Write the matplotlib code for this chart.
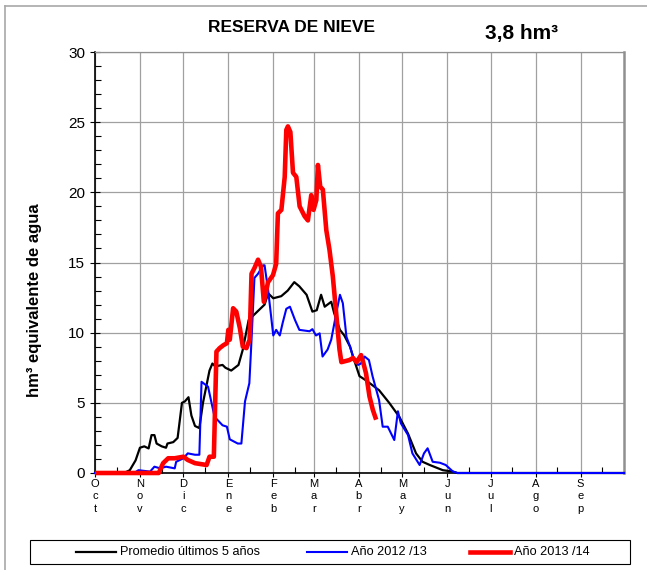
import matplotlib.pyplot as plt
from matplotlib.lines import Line2D
from matplotlib.patches import Rectangle

plt.rcParams['font.family'] = ['Liberation Sans', 'DejaVu Sans']

W, H = 647, 570

# meses del año hidrológico (días desde el 1 de octubre)
meses = ['Oct', 'Nov', 'Dic', 'Ene', 'Feb', 'Mar', 'Abr', 'May', 'Jun', 'Jul', 'Ago', 'Sep']
inicio_mes = [0, 31, 61, 92, 123, 151, 182, 212, 243, 273, 304, 335]

# Promedio últimos 5 años
prom_dias = [0, 20, 24, 28, 30, 31, 34, 37, 39, 41, 42.5, 46, 49, 50, 54, 57, 60, 62, 64.5,
             66.5, 69, 72, 74.5, 79, 81, 83, 88, 90, 94, 99, 102, 106, 112, 117, 119.5,
             123, 128.5, 133, 137.5, 141, 146, 150, 153, 156, 158.5, 163, 165, 169, 172,
             176, 178, 182.5, 187, 196, 203, 210, 216, 221.5, 226, 231, 240, 247, 250, 365]
prom_vals = [0, 0, 0.2, 0.9, 1.5, 1.8, 1.9, 1.75, 2.7, 2.7, 2.1, 1.9, 1.8, 2.1, 2.2, 2.5, 5.0,
             5.1, 5.4, 4.1, 3.35, 3.2, 5.0, 7.3, 7.8, 7.6, 7.7, 7.5, 7.3, 7.7, 8.8, 10.9, 11.5,
             12.0, 12.8, 12.45, 12.6, 13.0, 13.6, 13.3, 12.7, 11.5, 11.6, 12.7, 11.85, 12.2,
             11.4, 10.2, 9.8, 9.0, 8.3, 6.9, 6.6, 5.9, 5.0, 4.0, 2.8, 1.4, 0.8, 0.57, 0.2,
             0.1, 0, 0]

# Año 2012/13
d1213 = [0, 27, 30, 38, 41, 45, 49, 55, 56, 61, 64, 69, 72, 73.5, 78, 82.5, 88, 91, 93, 98.5,
         101, 103.5, 106.5, 108, 110, 112.5, 116, 117, 119.5, 123, 125, 127.5, 129.5, 132,
         134.5, 138, 141, 148, 150, 152.5, 155, 157, 160.5, 163, 166.5, 169, 171, 173.5, 176,
         178, 181.5, 183.5, 186, 189, 191.5, 196, 198.5, 202, 206.5, 209, 211, 216, 219, 224,
         227, 229.5, 233, 238, 242, 247, 250, 365]
v1213 = [0, 0, 0.2, 0.1, 0.45, 0.33, 0.45, 0.33, 0.8, 1.05, 1.4, 1.3, 1.3, 6.5, 6.15, 4.0, 3.4,
         3.3, 2.4, 2.1, 2.1, 5.1, 6.4, 9.5, 13.9, 14.2, 14.8, 14.8, 13.0, 9.8, 10.2, 9.8, 10.7,
         11.7, 11.85, 10.9, 10.2, 10.1, 10.25, 9.8, 9.95, 8.3, 8.8, 9.5, 11.4, 12.7, 12.1, 9.7,
         9.0, 8.3, 7.7, 7.8, 8.3, 8.05, 6.9, 5.2, 3.3, 3.3, 2.35, 4.4, 3.55, 2.7, 1.4, 0.57,
         1.4, 1.76, 0.8, 0.73, 0.57, 0.1, 0, 0]

# Año 2013/14
d1314 = [0, 44, 47, 50.5, 55, 61, 64, 69, 77, 79, 82, 83.8, 86, 88.5, 91, 92, 93, 95.3, 97.5,
         100, 102, 104.5, 106.7, 108, 110, 112.5, 114.5, 116.5, 119.4, 122.8, 125, 126.2,
         128.6, 130.9, 132, 133.1, 134.8, 136.6, 138.9, 141.2, 144.6, 146.9, 149.2, 150.8,
         152.7, 153.8, 155.4, 157.2, 159.6, 161.8, 164.1, 166.4, 168.7, 170, 175.6, 178,
         180.5, 183.6, 185, 187, 189.4, 191.7, 194]
v1314 = [0, 0, 0.7, 1.05, 1.05, 1.16, 0.93, 0.7, 0.57, 1.16, 1.16, 8.65, 8.9, 9.1, 9.25, 10.2,
         9.5, 11.74, 11.5, 10.3, 9.0, 8.9, 9.5, 14.2, 14.6, 15.2, 14.7, 12.2, 13.6, 14.1, 14.9,
         18.5, 18.75, 21.1, 24.45, 24.7, 24.3, 21.4, 21.1, 19.0, 18.3, 18.0, 19.8, 18.75, 19.45,
         21.95, 20.4, 20.2, 17.3, 15.9, 14.0, 11.4, 8.8, 7.9, 8.05, 8.2, 7.9, 8.4, 7.9, 7.1,
         5.45, 4.5, 3.8]

fig = plt.figure(figsize=(W / 100, H / 100), dpi=100)
ax = fig.add_axes([95 / W, 97 / H, 529 / W, 421 / H])

ax.plot(prom_dias, prom_vals, color='black', lw=1.6, clip_on=False, zorder=3)
ax.plot(d1213, v1213, color='#0000ff', lw=1.5, clip_on=False, zorder=4)
ax.plot(d1314, v1314, color='#ff0000', lw=3.3, clip_on=False, zorder=5,
        solid_joinstyle='round', solid_capstyle='butt')

ax.set_xlim(0, 365)
ax.set_ylim(0, 30)
ax.set_yticks(range(0, 31, 5))
ax.set_yticks(range(0, 31), minor=True)
ax.set_xticks(inicio_mes)
ax.set_xticklabels(['\n'.join(m) for m in meses], fontsize=8, linespacing=1.35)
ax.set_xticks([d + 15 for d in inicio_mes], minor=True)
ax.tick_params(axis='y', which='major', labelsize=11, direction='inout', length=7, width=0.8)
ax.tick_params(axis='y', which='minor', direction='in', length=4, width=0.8)
ax.tick_params(axis='x', which='major', direction='out', length=3, width=0.8, pad=1)
ax.tick_params(axis='x', which='minor', direction='in', length=4, width=0.8)
ax.grid(True, which='major', color='#a0a0a0', lw=0.9)
ax.set_axisbelow(True)

for lado in ('top', 'right'):
    ax.spines[lado].set_color('#909090')
ax.spines['right'].set_linewidth(1.8)
ax.spines['top'].set_linewidth(0.9)
ax.spines['left'].set_linewidth(1.2)
ax.spines['bottom'].set_linewidth(1.2)

fig.text(35 / W, 1 - 300 / H, 'hm³ equivalente de agua', rotation=90, fontsize=12,
         fontweight='bold', ha='center', va='center')

fig.text(292 / W, 1 - 27 / H, 'RESERVA DE NIEVE', fontsize=12.5, fontweight='bold',
         ha='center', va='center')
fig.text(522 / W, 1 - 33 / H, '3,8 hm³', fontsize=15, fontweight='bold',
         ha='center', va='center')

# marco exterior
fig.add_artist(Line2D([5 / W, 5 / W], [0, 1 - 6 / H], transform=fig.transFigure,
                      color='#a8a8a8', lw=1.2))
fig.add_artist(Line2D([5 / W, 1], [1 - 6 / H, 1 - 6 / H], transform=fig.transFigure,
                      color='#a8a8a8', lw=1.2))

# leyenda
fig.add_artist(Rectangle((30 / W, 1 - 564 / H), 600 / W, 24 / H, transform=fig.transFigure,
                         facecolor='white', edgecolor='black', lw=0.8))
ly = 1 - 552 / H
entradas = [('Promedio últimos 5 años', 'black', 1.6, 76),
            ('Año 2012 /13', '#0000ff', 1.5, 307),
            ('Año 2013 /14', '#ff0000', 3.3, 470)]
for texto, color, lw, x0 in entradas:
    fig.add_artist(Line2D([x0 / W, (x0 + 40) / W], [ly, ly], transform=fig.transFigure,
                          color=color, lw=lw))
    fig.text((x0 + 44) / W, ly, texto, fontsize=9.2, ha='left', va='center')

fig.savefig('out.png', dpi=100)
